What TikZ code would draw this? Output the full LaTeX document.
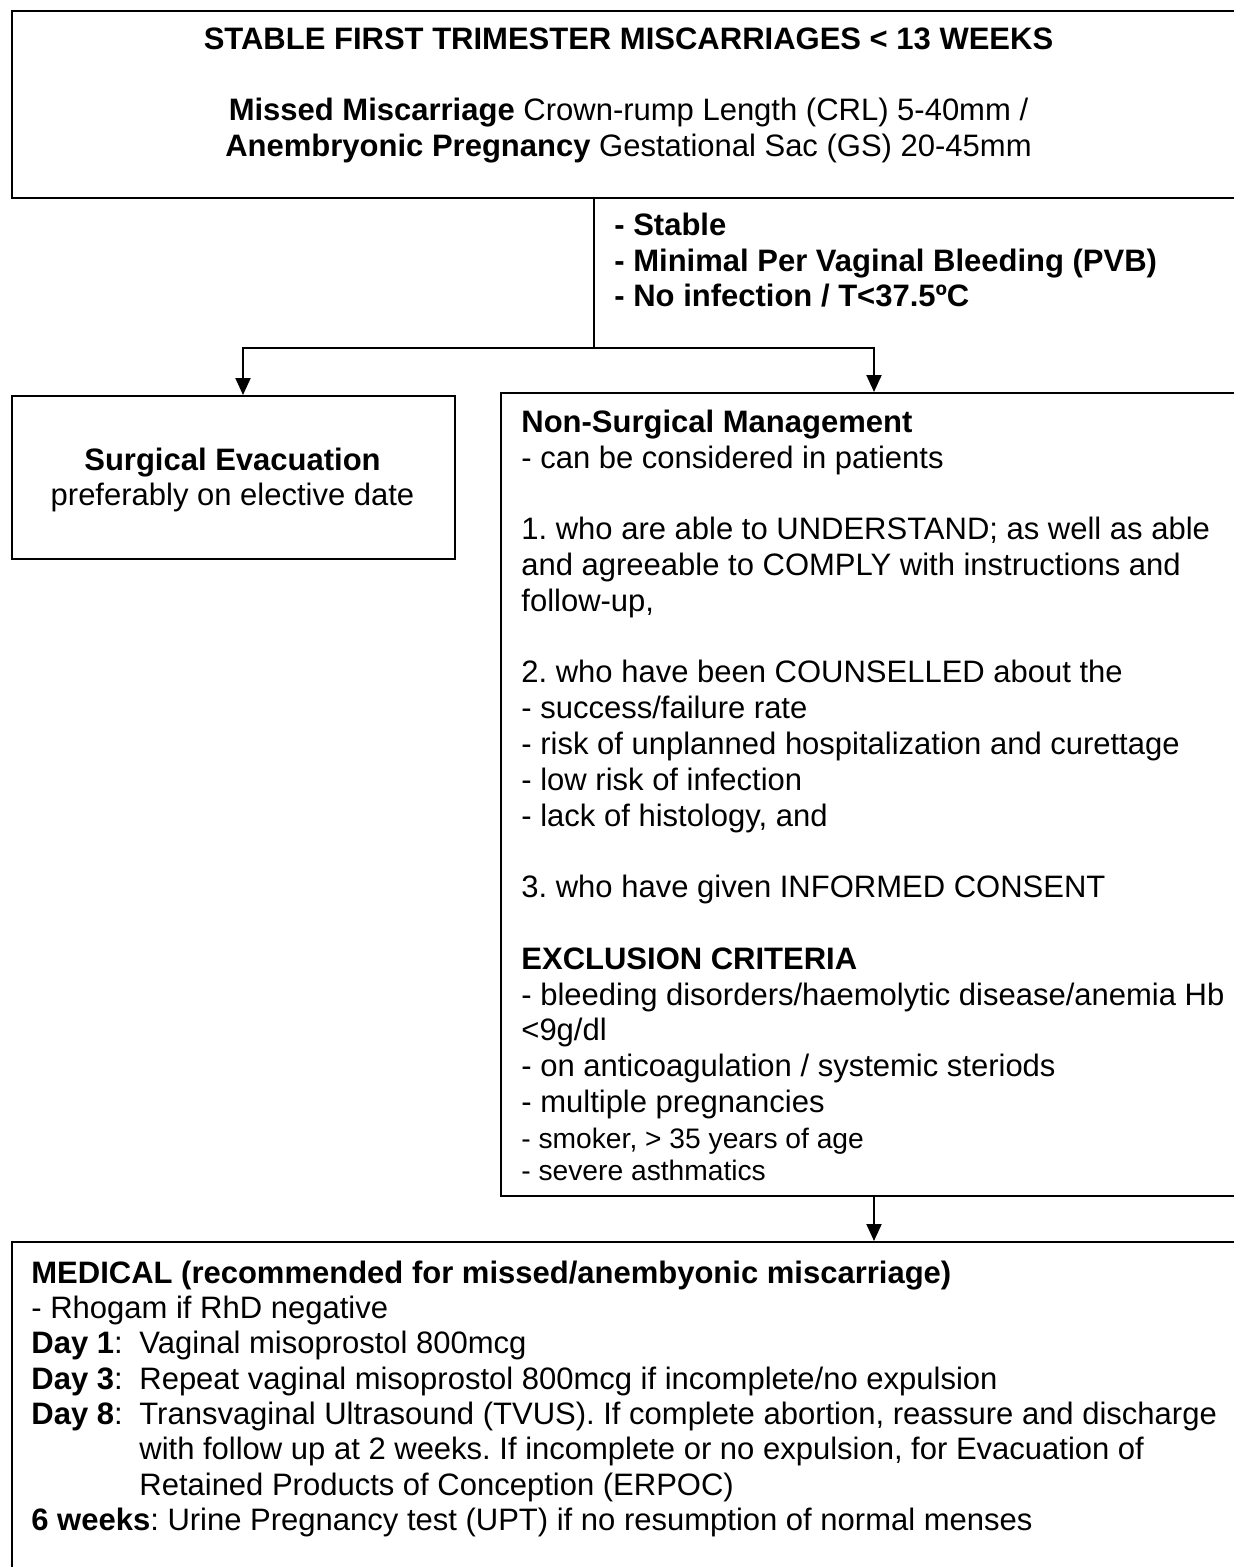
\documentclass[tikz,border=0pt]{standalone}
\usepackage{fontspec}
\setmainfont{Liberation Sans}
\usetikzlibrary{arrows.meta}
\frenchspacing

\newcommand\bodyfont{\fontsize{15.5}{17.9}\selectfont}
\newcommand\smallbody{\fontsize{14.1}{16}\selectfont}
\newcommand\daylabel[1]{\makebox[54pt][l]{\textbf{#1}:}}

\tikzset{
  box/.style={draw, line width=1pt, inner sep=0pt, anchor=north west},
  txt/.style={inner sep=0pt, font=\bodyfont},
  flow/.style={line width=1pt, -{Triangle[width=7.5pt,length=8.5pt]}},
}

\begin{document}
\begin{tikzpicture}[x=0.5pt,y=-0.5pt]
  \useasboundingbox (0,0) rectangle (1234,1567);
  \clip (0,0) rectangle (1234,1567);

  % boxes
  \node[box, minimum width=617.5pt, minimum height=93.5pt] (top) at (11,10) {};
  \node[box, minimum width=221.5pt, minimum height=81.5pt] (surg) at (11,395) {};
  \node[box, minimum width=373pt, minimum height=401.5pt] (nonsurg) at (500,392) {};
  \node[box, minimum width=617.5pt, minimum height=179.5pt] (medical) at (11,1241) {};

  % texts
  \node[txt, anchor=north, align=center] (toptext) at (628.5,27)
    {\textbf{STABLE FIRST TRIMESTER MISCARRIAGES < 13 WEEKS}\\[17.9pt]
     \textbf{Missed Miscarriage} Crown-rump Length (CRL) 5-40mm /\\
     \textbf{Anembryonic Pregnancy} Gestational Sac (GS) 20-45mm};
  \node[txt, font=\bodyfont\bfseries, anchor=north west, align=left] (cond) at (614,212.5)
    {- Stable\\
     - Minimal Per Vaginal Bleeding (PVB)\\
     - No infection / T<37.5ºC};
  \node[txt, align=center] (surgtext) at (232.5,480)
    {\textbf{Surgical Evacuation}\\
     preferably on elective date};
  \node[txt, anchor=north west, align=left] (nstext) at (521,409.5)
    {\textbf{Non-Surgical Management}\\
     - can be considered in patients\\[17.9pt]
     1. who are able to UNDERSTAND; as well as able\\
     and agreeable to COMPLY with instructions and\\
     follow-up,\\[17.9pt]
     2. who have been COUNSELLED about the\\
     - success/failure rate\\
     - risk of unplanned hospitalization and curettage\\
     - low risk of infection\\
     - lack of histology, and\\[17.9pt]
     3. who have given INFORMED CONSENT\\[17.9pt]
     \textbf{EXCLUSION CRITERIA}\\
     - bleeding disorders/haemolytic disease/anemia Hb\\
     <9g/dl\\
     - on anticoagulation / systemic steriods\\
     - multiple pregnancies};
  \node[txt, font=\smallbody, anchor=north west, align=left] (nsfoot) at (521,1127.5)
    {- smoker, > 35 years of age\\
     - severe asthmatics};
  \node[txt, font=\fontsize{15.5}{17.65}\selectfont, anchor=north west, align=left] (medtext) at (31,1260.5)
    {\textbf{MEDICAL (recommended for missed/anembyonic miscarriage)}\\
     - Rhogam if RhD negative\\
     \daylabel{Day 1}Vaginal misoprostol 800mcg\\
     \daylabel{Day 3}Repeat vaginal misoprostol 800mcg if incomplete/no expulsion\\
     \daylabel{Day 8}Transvaginal Ultrasound (TVUS). If complete abortion, reassure and discharge\\
     \hspace*{54pt}with follow up at 2 weeks. If incomplete or no expulsion, for Evacuation of\\
     \hspace*{54pt}Retained Products of Conception (ERPOC)\\
     \textbf{6 weeks}: Urine Pregnancy test (UPT) if no resumption of normal menses};

  % connectors
  \coordinate (split) at (594,348);
  \coordinate (lturn) at (243,348);
  \draw[line width=1pt] (top.south -| split) -- (split);
  \draw[flow] (split) -- (lturn) -- (lturn |- surg.north);
  \draw[flow] (split) -| (nonsurg.north);
  \draw[flow] (nonsurg.south) -- (nonsurg.south |- medical.north);
\end{tikzpicture}
\end{document}
